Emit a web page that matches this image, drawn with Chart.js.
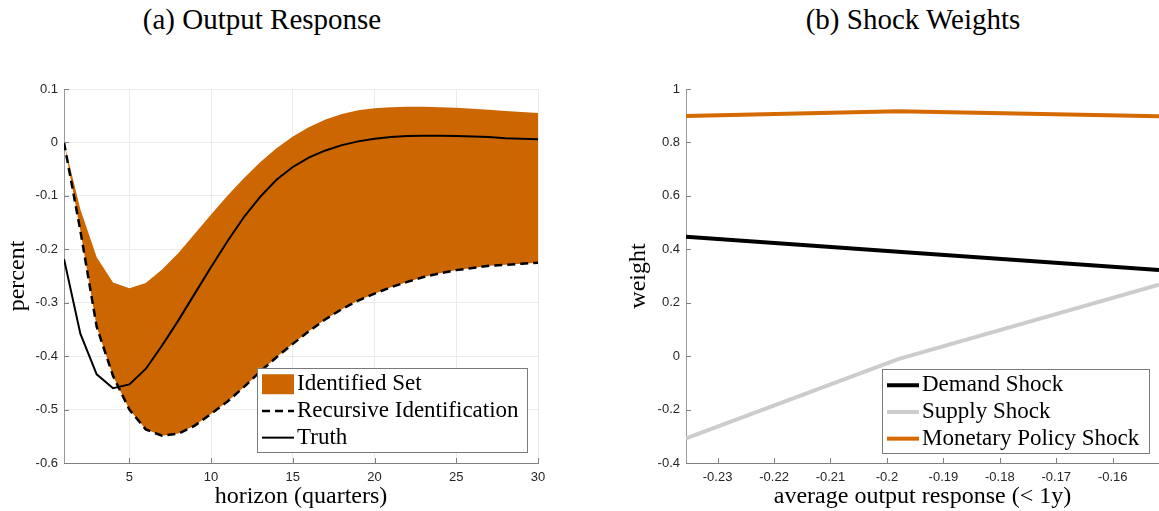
<!DOCTYPE html>
<html>
<head>
<meta charset="utf-8">
<script src="https://cdn.jsdelivr.net/npm/chart.js@4.4.1/dist/chart.umd.min.js"></script>
<style>
  html, body { margin: 0; padding: 0; background: #fff; }
  body { width: 1159px; height: 511px; position: relative; overflow: hidden; }
  .caption {
    position: absolute; top: 3px; transform: translateX(-50%);
    font-family: 'Liberation Serif', serif; font-size: 29px; line-height: 32px;
    color: #000; white-space: nowrap;
  }
  #outputChart { position: absolute; left: 0; top: 0; }
  #weightChart { position: absolute; left: 600px; top: 0; }
</style>
</head>
<body>
<div class="caption" style="left:262px">(a) Output Response</div>
<div class="caption" style="left:913px">(b) Shock Weights</div>
<canvas id="outputChart" width="560" height="511"></canvas>
<canvas id="weightChart" width="559" height="511"></canvas>
<script>
// (a) impulse response of output, horizon in quarters
const horizons = [1, 2, 3, 4, 5, 6, 7, 8, 9, 10, 11, 12, 13, 14, 15,
  16, 17, 18, 19, 20, 21, 22, 23, 24, 25, 26, 27, 28, 29, 30];
const setUpper = [0, -0.125, -0.215, -0.262, -0.273, -0.263, -0.238, -0.207, -0.171, -0.135,
  -0.100, -0.067, -0.037, -0.011, 0.011, 0.029, 0.043, 0.053, 0.060, 0.064,
  0.066, 0.067, 0.067, 0.066, 0.065, 0.063, 0.061, 0.059, 0.057, 0.055];
const recursive = [0, -0.165, -0.345, -0.437, -0.500, -0.537, -0.549, -0.545, -0.530, -0.508,
  -0.485, -0.458, -0.429, -0.402, -0.377, -0.353, -0.331, -0.312, -0.296, -0.283,
  -0.271, -0.261, -0.252, -0.245, -0.239, -0.235, -0.231, -0.229, -0.227, -0.225];
const truth = [-0.218, -0.358, -0.434, -0.460, -0.453, -0.424, -0.380, -0.333, -0.283, -0.233,
  -0.185, -0.140, -0.102, -0.070, -0.046, -0.028, -0.015, -0.005, 0.002, 0.007,
  0.010, 0.012, 0.0125, 0.0125, 0.012, 0.011, 0.010, 0.008, 0.007, 0.006];
const horizonTicks = [5, 10, 15, 20, 25, 30];
const percentTicks = [-0.6, -0.5, -0.4, -0.3, -0.2, -0.1, 0, 0.1];

// (b) shock weights against average output response over the first year
const avgResponse = [-0.2356, -0.198, -0.1518];
const demandWeight = [0.447, 0.391, 0.322];
const supplyWeight = [-0.308, -0.011, 0.268];
const monetaryWeight = [0.899, 0.917, 0.898];
const responseTicks = [-0.23, -0.22, -0.21, -0.2, -0.19, -0.18, -0.17, -0.16];
const weightTicks = [-0.4, -0.2, 0, 0.2, 0.4, 0.6, 0.8, 1];

const ORANGE = '#CC6600';
const SERIF = "'Liberation Serif', serif";
const SANS = "'Liberation Sans', Arial, sans-serif";

const fmt = v => String(+v.toFixed(2));
const pairs = (xs, ys) => xs.map((x, i) => ({ x, y: ys[i] }));

// short tick marks pointing into the plot
const innerTicks = {
  id: 'innerTicks',
  afterDatasetsDraw(chart, args, opts) {
    const { ctx, chartArea } = chart;
    const { x, y } = chart.scales;
    ctx.save();
    ctx.lineWidth = 1;
    ctx.strokeStyle = opts.color;
    ctx.beginPath();
    x.ticks.forEach(t => {
      const px = Math.round(x.getPixelForValue(t.value)) + 0.5;
      ctx.moveTo(px, chartArea.bottom);
      ctx.lineTo(px, chartArea.bottom - opts.length);
    });
    y.ticks.forEach(t => {
      const py = Math.round(y.getPixelForValue(t.value)) + 0.5;
      ctx.moveTo(chartArea.left, py);
      ctx.lineTo(chartArea.left + opts.length, py);
    });
    ctx.stroke();
    ctx.restore();
  }
};

// boxed legend in the lower right corner of the plot
const boxLegend = {
  id: 'boxLegend',
  afterDraw(chart, args, opts) {
    const { ctx, chartArea } = chart;
    const rowH = 26.7, pad = 2;
    const right = chartArea.right - opts.inset;
    const bottom = chartArea.bottom - opts.inset;
    const height = pad * 2 + rowH * opts.items.length;
    const left = right - opts.width;
    const top = bottom - height;
    ctx.save();
    ctx.fillStyle = '#fff';
    ctx.fillRect(left, top, opts.width, height);
    ctx.strokeStyle = '#7a7a7a';
    ctx.lineWidth = 1;
    ctx.strokeRect(Math.round(left) + 0.5, Math.round(top) + 0.5, Math.round(opts.width), Math.round(height));
    opts.items.forEach((item, i) => {
      const ds = chart.data.datasets[item.dataset];
      const cy = top + pad + rowH * (i + 0.5);
      const sx = left + 5, ex = left + 37;
      if (item.patch) {
        ctx.fillStyle = ds.backgroundColor;
        ctx.fillRect(sx, cy - 9, ex - sx, 20);
      } else {
        ctx.strokeStyle = ds.borderColor;
        ctx.lineWidth = ds.borderWidth;
        ctx.setLineDash(ds.borderDash || []);
        ctx.beginPath();
        ctx.moveTo(sx, cy + 1);
        ctx.lineTo(ex, cy + 1);
        ctx.stroke();
        ctx.setLineDash([]);
      }
      ctx.fillStyle = '#000';
      ctx.font = '23px ' + SERIF;
      ctx.textBaseline = 'middle';
      ctx.fillText(ds.label, left + 40, cy + 1);
    });
    ctx.restore();
  }
};

Chart.register(innerTicks, boxLegend);

const tickFont = { family: SANS, size: 13 };
const titleFont = { family: SERIF, size: 24 };

new Chart(document.getElementById('outputChart'), {
  type: 'line',
  data: {
    datasets: [
      {
        label: 'Truth',
        data: pairs(horizons, truth),
        borderColor: '#000',
        borderWidth: 2,
        pointRadius: 0,
        fill: false,
      },
      {
        label: 'Recursive Identification',
        data: pairs(horizons, recursive),
        borderColor: '#000',
        borderWidth: 2.5,
        borderDash: [8, 5],
        pointRadius: 0,
        fill: false,
      },
      {
        label: 'Identified Set',
        data: pairs(horizons, setUpper),
        borderColor: 'rgba(0,0,0,0)',
        borderWidth: 0,
        backgroundColor: ORANGE,
        pointRadius: 0,
        fill: '-1',
      },
    ],
  },
  options: {
    responsive: false,
    animation: false,
    layout: { padding: { top: 89, right: 22, bottom: 0, left: 0 } },
    plugins: {
      legend: { display: false },
      tooltip: { enabled: false },
      innerTicks: { color: '#808080', length: 5 },
      boxLegend: {
        inset: 11,
        width: 270,
        items: [{ dataset: 2, patch: true }, { dataset: 1 }, { dataset: 0 }],
      },
    },
    scales: {
      x: {
        type: 'linear',
        min: 1,
        max: 30,
        afterBuildTicks: s => { s.ticks = horizonTicks.map(value => ({ value })); },
        afterFit: s => { s.height = 48; },
        grid: { color: '#ebebeb', drawTicks: false },
        border: { color: '#808080' },
        ticks: { color: '#262626', font: tickFont, padding: 7, maxRotation: 0, callback: fmt },
        title: { display: true, text: 'horizon (quarters)', color: '#000', font: titleFont, padding: { top: 0, bottom: 0 } },
      },
      y: {
        min: -0.6,
        max: 0.1,
        afterBuildTicks: s => { s.ticks = percentTicks.map(value => ({ value })); },
        afterFit: s => { s.width = 64; },
        grid: { color: '#ebebeb', drawTicks: false },
        border: { color: '#999' },
        ticks: { color: '#262626', font: tickFont, padding: 6, callback: fmt },
        title: { display: true, text: 'percent', color: '#000', font: titleFont, padding: { top: 3, bottom: 0 } },
      },
    },
  },
});

new Chart(document.getElementById('weightChart'), {
  type: 'line',
  data: {
    datasets: [
      {
        label: 'Demand Shock',
        data: pairs(avgResponse, demandWeight),
        borderColor: '#000',
        borderWidth: 4,
        pointRadius: 0,
      },
      {
        label: 'Supply Shock',
        data: pairs(avgResponse, supplyWeight),
        borderColor: '#cccccc',
        borderWidth: 4,
        pointRadius: 0,
      },
      {
        label: 'Monetary Policy Shock',
        data: pairs(avgResponse, monetaryWeight),
        borderColor: '#D46A00',
        borderWidth: 4,
        pointRadius: 0,
      },
    ],
  },
  options: {
    responsive: false,
    animation: false,
    layout: { padding: { top: 89, right: 0, bottom: 0, left: 0 } },
    plugins: {
      legend: { display: false },
      tooltip: { enabled: false },
      innerTicks: { color: '#808080', length: 5 },
      boxLegend: {
        inset: 10,
        width: 267,
        items: [{ dataset: 0 }, { dataset: 1 }, { dataset: 2 }],
      },
    },
    scales: {
      x: {
        type: 'linear',
        min: -0.2356,
        max: -0.1518,
        afterBuildTicks: s => { s.ticks = responseTicks.map(value => ({ value })); },
        afterFit: s => { s.height = 48; },
        grid: { display: false, drawTicks: false },
        border: { color: '#808080' },
        ticks: { color: '#262626', font: tickFont, padding: 7, maxRotation: 0, callback: fmt },
        title: { display: true, text: 'average output response (< 1y)', color: '#000', font: titleFont, padding: { top: 0, bottom: 0 } },
      },
      y: {
        min: -0.4,
        max: 1,
        afterBuildTicks: s => { s.ticks = weightTicks.map(value => ({ value })); },
        afterFit: s => { s.width = 86; },
        grid: { display: false, drawTicks: false },
        border: { color: '#999' },
        ticks: { color: '#262626', font: tickFont, padding: 6, callback: fmt },
        title: { display: true, text: 'weight', color: '#000', font: titleFont, padding: { top: 24, bottom: 0 } },
      },
    },
  },
});
</script>
</body>
</html>
